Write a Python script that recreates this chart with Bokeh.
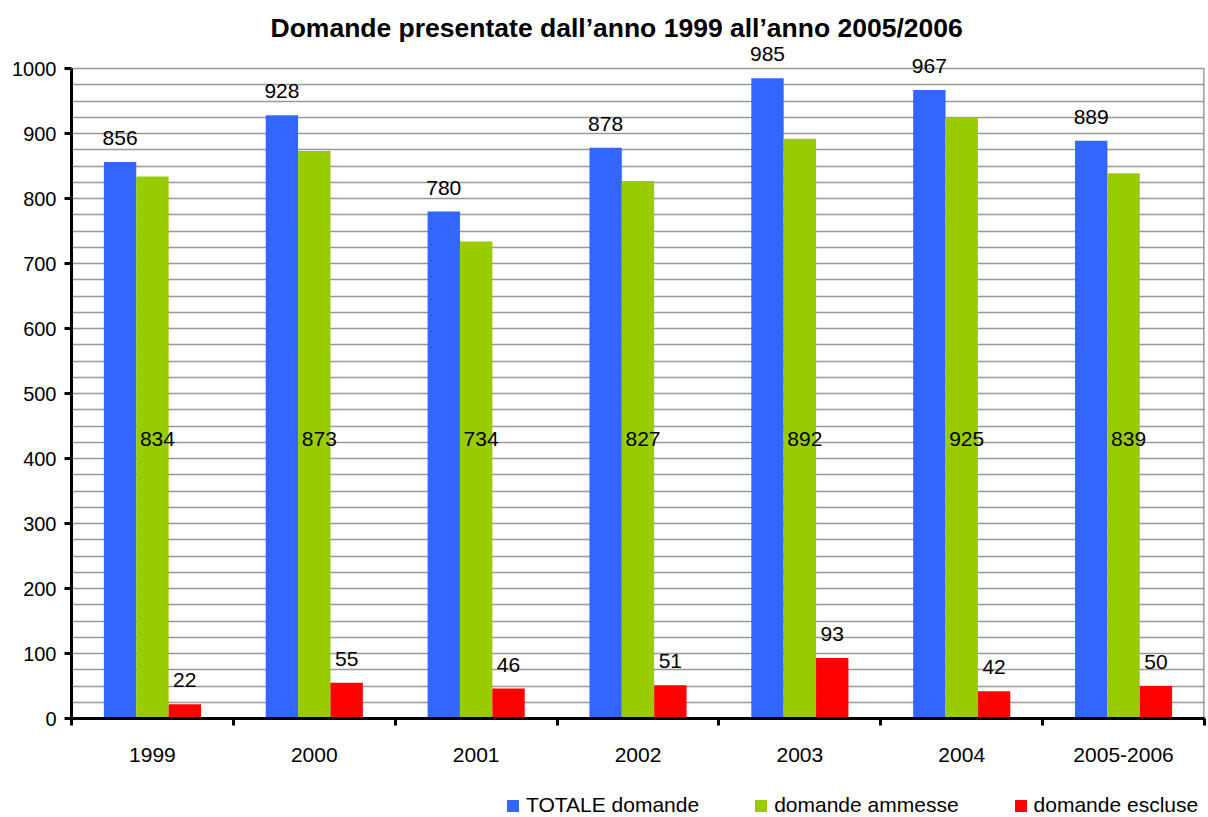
from bokeh.plotting import figure
from bokeh.layouts import column
from bokeh.models import FixedTicker, Legend, LegendItem, ColumnDataSource, Range1d
from bokeh.embed import file_html
from bokeh.resources import INLINE
from bokeh.core.properties import value

categories = ["1999", "2000", "2001", "2002", "2003", "2004", "2005-2006"]
totale = [856, 928, 780, 878, 985, 967, 889]
ammesse = [834, 873, 734, 827, 892, 925, 839]
escluse = [22, 55, 46, 51, 93, 42, 50]
y_ticks = [0, 100, 200, 300, 400, 500, 600, 700, 800, 900, 1000]
series_names = ["TOTALE domande", "domande ammesse", "domande escluse"]
colors = ["#3366FF", "#99CC00", "#FF0000"]

FONT = "Liberation Sans"
n = len(categories)
y_max = y_ticks[-1]
centers = [i + 0.5 for i in range(n)]

# y range extends a little above the axis so value labels above 1000 stay visible
p = figure(width=1208, height=770, output_backend="svg", toolbar_location=None,
           x_range=Range1d(0, n), y_range=Range1d(0, y_max * 1.04),
           min_border_left=71, min_border_right=4, min_border_top=42, min_border_bottom=52)

p.title.text = "Domande presentate dall\u2019anno 1999 all\u2019anno 2005/2006"
p.title.text_font = FONT
p.title.text_font_size = "26.5px"
p.title.text_font_style = "bold"
p.title.text_color = "black"
p.title.align = "left"
p.title.offset = 199
p.title.standoff = 0

p.outline_line_color = None

# grid (only up to the top of the axis)
p.xgrid.visible = False
p.ygrid.ticker = FixedTicker(ticks=list(range(0, y_max + 1, 25)))
p.ygrid.grid_line_color = "#999999"
p.ygrid.grid_line_width = 1.5

# right border of the plot area
p.segment(x0=[n], y0=[0], x1=[n], y1=[y_max], line_color="#888888", line_width=2.5)

offs = [-0.2, 0.0, 0.2]
for vals, off, col in zip([totale, ammesse, escluse], offs, colors):
    src = ColumnDataSource(dict(x=[c + off for c in centers], top=vals,
                                lab=[str(v) for v in vals],
                                mid=[430] * n))
    p.vbar(x="x", top="top", width=0.2, source=src, fill_color=col, line_color=None)
    if col == "#99CC00":
        p.text(x="x", y="mid", text="lab", source=src, text_font=value(FONT),
               text_font_size="21px", text_align="center", text_baseline="middle",
               x_offset=5, text_color="black")
    else:
        p.text(x="x", y="top", text="lab", source=src, text_font=value(FONT),
               text_font_size="21px", text_align="center", text_baseline="middle",
               y_offset=-24, text_color="black")

# y axis
p.yaxis.ticker = FixedTicker(ticks=y_ticks)
p.yaxis.bounds = (0, y_max)
p.yaxis.axis_line_width = 3
p.yaxis.axis_line_color = "black"
p.yaxis.major_tick_out = 7
p.yaxis.major_tick_in = 0
p.yaxis.major_tick_line_width = 3
p.yaxis.minor_tick_line_color = None
p.yaxis.major_label_text_font = FONT
p.yaxis.major_label_text_font_size = "20px"
p.yaxis.major_label_text_color = "black"
p.yaxis.major_label_standoff = 8

# x axis: labels at centers, ticks at boundaries
p.xaxis.ticker = FixedTicker(ticks=centers, minor_ticks=list(range(0, n + 1)))
p.xaxis.major_label_overrides = {c: lab for c, lab in zip(centers, categories)}
p.xaxis.major_tick_line_color = None
p.xaxis.major_tick_out = 0
p.xaxis.major_tick_in = 0
p.xaxis.minor_tick_line_color = "black"
p.xaxis.minor_tick_line_width = 3
p.xaxis.minor_tick_out = 7
p.xaxis.minor_tick_in = 0
p.xaxis.axis_line_width = 3
p.xaxis.axis_line_color = "black"
p.xaxis.major_label_text_font = FONT
p.xaxis.major_label_text_font_size = "21px"
p.xaxis.major_label_text_color = "black"
p.xaxis.major_label_standoff = 22

# legend strip below the chart (zero-height proxy glyphs carry the swatch colours)
lp = figure(width=1208, height=47, output_backend="svg", toolbar_location=None,
            x_range=Range1d(0, 1), y_range=Range1d(0, 1),
            x_axis_type=None, y_axis_type=None,
            min_border_left=71, min_border_right=4, min_border_top=0, min_border_bottom=0)
lp.outline_line_color = None
items = []
for nm, col in zip(series_names, colors):
    r = lp.vbar(x=[0.5], top=[0], bottom=[0], width=0.0, fill_color=col, line_color=None)
    items.append(LegendItem(label=nm, renderers=[r]))
legend = Legend(items=items, orientation="horizontal", location=(434, 0),
                glyph_width=15, glyph_height=15, label_standoff=6, spacing=54,
                padding=0, margin=0, border_line_color=None, background_fill_alpha=0,
                label_text_font=FONT, label_text_font_size="21px",
                label_text_color="black")
lp.add_layout(legend)

layout = column(p, lp, spacing=0)
open("out.html", "w").write(file_html(layout, INLINE))
